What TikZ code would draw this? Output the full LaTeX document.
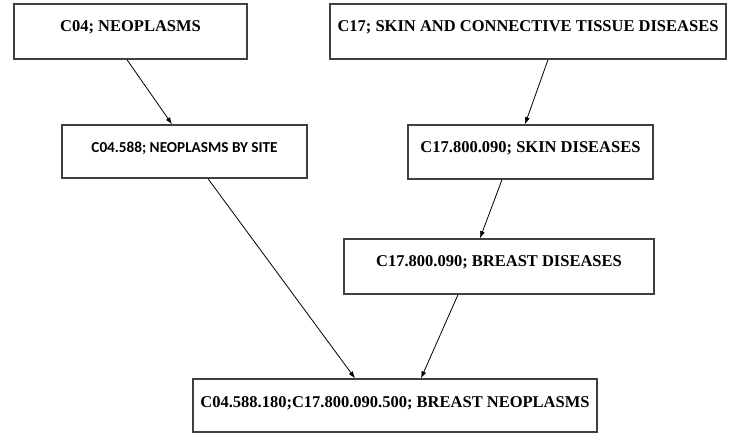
\documentclass[tikz,border=0pt]{standalone}
\usepackage{fontspec}
\setmainfont{Liberation Serif}
\newfontfamily\calibrifont{Carlito}
\usetikzlibrary{positioning, arrows.meta, calc}

\begin{document}
\begin{tikzpicture}[%
    x=1bp, y=-1bp,
    font=\fontsize{16.5bp}{19bp}\selectfont\bfseries,
    >={Latex[length=7bp, width=5bp]},
    % Boxes
    meshbox/.style={draw=black!75, line width=1.4bp, rectangle, inner sep=0pt, align=center, text height=28bp},
    link/.style={->, line width=0.8bp}
]
\useasboundingbox (0,0) rectangle (729,434);

% --- 1. Top Row ---
\node[meshbox, minimum width=233bp, text depth=27bp] (c04) at (130.5,31.5) {C04; NEOPLASMS};
\node[meshbox, minimum width=396bp, text depth=27bp] (c17) at (528,31.5) {C17; SKIN AND CONNECTIVE TISSUE DISEASES};

% --- 2. Second Row ---
\node[meshbox, minimum width=245bp, text depth=25bp, font=\calibrifont\fontsize{15.2bp}{18bp}\selectfont\bfseries] (c04site) at (184.5,151.5) {C04.588; NEOPLASMS BY SITE};
\node[meshbox, minimum width=245bp, text depth=26bp] (skin) at (530.5,152) {C17.800.090; SKIN DISEASES};

% --- 3. Third Row ---
\node[meshbox, minimum width=310bp, text depth=27bp] (breastdis) at (499,266.5) {C17.800.090; BREAST DISEASES};

% --- 4. Bottom ---
\node[meshbox, minimum width=404bp, text depth=25bp] (breastneo) at (395,405.5) {C04.588.180;C17.800.090.500; BREAST NEOPLASMS};

% Connections
\draw[link] ([xshift=-3.5bp]c04.south) -- ([xshift=-12.5bp]c04site.north);
\draw[link] ([xshift=20bp]c17.south) -- ([xshift=-5.5bp]skin.north);
\draw[link] ([xshift=-28.5bp]skin.south) -- ([xshift=-19bp]breastdis.north);
\draw[link] ([xshift=23.5bp]c04site.south) -- ([xshift=-40bp]breastneo.north);
\draw[link] ([xshift=-41bp]breastdis.south) -- ([xshift=26bp]breastneo.north);

\end{tikzpicture}
\end{document}
